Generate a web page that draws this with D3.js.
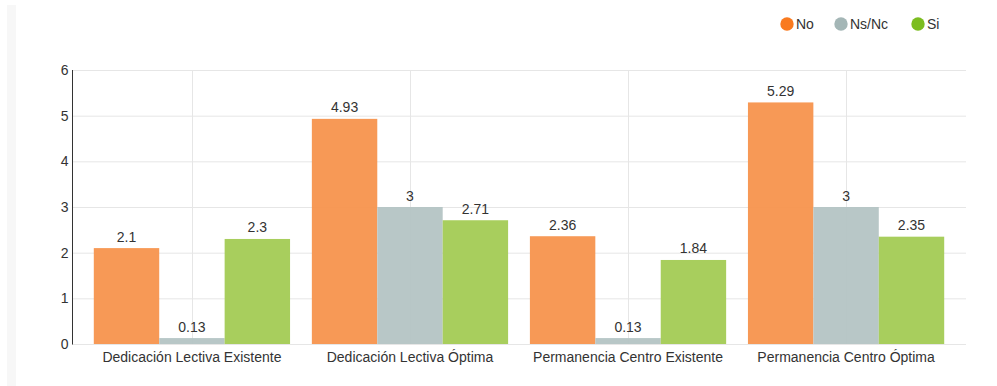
<!DOCTYPE html>
<html><head><meta charset="utf-8">
<script src="https://cdn.jsdelivr.net/npm/d3@7"></script>
<style>
body{margin:0;background:#fff;}
svg{display:block;font-family:"Liberation Sans",Arial,sans-serif;}
</style></head>
<body><svg id="c" width="997" height="386"></svg>
<script>
const categories = ["Dedicación Lectiva Existente","Dedicación Lectiva Óptima","Permanencia Centro Existente","Permanencia Centro Óptima"];
const seriesNames = ["No","Ns/Nc","Si"];
const noValues = [2.1, 4.93, 2.36, 5.29];
const nsncValues = [0.13, 3, 0.13, 3];
const siValues = [2.3, 2.71, 1.84, 2.35];
const yTicks = [0,1,2,3,4,5,6];
const barColors = ["#f7944d","#b4c4c4","#a3cb54"];
const legendColors = ["#f97a1f","#a4b6b6","#7cbd20"];

(function(){
const series = [noValues, nsncValues, siValues];
const svg = d3.select("#c");
svg.append("rect").attr("x",7).attr("y",5).attr("width",9).attr("height",381).attr("fill","#f7f7f7");

const pL=72, pR=966, pT=70, pB=344;
const fs = 14;
const x = d3.scaleBand().domain(categories).range([pL,pR]).paddingInner(0.1).paddingOuter(0.1);
const x1 = d3.scaleBand().domain(seriesNames).range([0,x.bandwidth()]);
const y = d3.scaleLinear().domain([0,6]).range([pB,pT]);

// grid
const g = svg.append("g");
g.selectAll(".hg").data(yTicks).join("line")
 .attr("x1",pL).attr("x2",pR).attr("y1",d=>y(d)+0.5).attr("y2",d=>y(d)+0.5)
 .attr("stroke","#e6e6e6").attr("stroke-width",1);
g.selectAll(".vg").data(categories).join("line")
 .attr("x1",d=>Math.round(x(d)+x.bandwidth()/2)+0.5).attr("x2",d=>Math.round(x(d)+x.bandwidth()/2)+0.5)
 .attr("y1",pT).attr("y2",pB).attr("stroke","#e6e6e6");

// bars
const bars = svg.append("g");
series.forEach((vals,si)=>{
  bars.selectAll(".b"+si).data(vals).join("rect")
   .attr("x",(d,i)=>x(categories[i])+x1(seriesNames[si]))
   .attr("width",x1.bandwidth())
   .attr("y",d=>y(d)).attr("height",d=>pB-y(d))
   .attr("fill",barColors[si]).attr("fill-opacity",0.95);
  bars.selectAll(".t"+si).data(vals).join("text")
   .attr("x",(d,i)=>x(categories[i])+x1(seriesNames[si])+x1.bandwidth()/2)
   .attr("y",d=>y(d)-6.5)
   .attr("text-anchor","middle").attr("font-size",fs).attr("fill","#333")
   .text(d=>d);
});

// y axis
const ya = svg.append("g").attr("transform",`translate(${pL+0.5},0)`)
 .call(d3.axisLeft(y).tickValues(yTicks).tickFormat(d3.format("d")).tickSize(0).tickPadding(4).tickSizeOuter(0));
ya.select(".domain").attr("stroke","#333").attr("d",`M0,${pT}V${pB+0.5}`);
ya.selectAll("text").attr("font-size",fs).attr("fill","#333").attr("font-family","Liberation Sans, Arial, sans-serif");

// x axis
const xa = svg.append("g").attr("transform",`translate(0,${pB})`)
 .call(d3.axisBottom(x).tickSize(0).tickPadding(8));
xa.select(".domain").remove();
xa.selectAll("text").attr("font-size",fs).attr("fill","#333").attr("font-family","Liberation Sans, Arial, sans-serif");

// legend
const legX = [787, 841, 918];
const lg = svg.append("g");
seriesNames.forEach((n,i)=>{
  lg.append("circle").attr("cx",legX[i]).attr("cy",24).attr("r",6.7).attr("fill",legendColors[i]);
  lg.append("text").attr("x",legX[i]+9).attr("y",29).attr("font-size",fs).attr("fill","#333").text(n);
});
})();
</script></body></html>
